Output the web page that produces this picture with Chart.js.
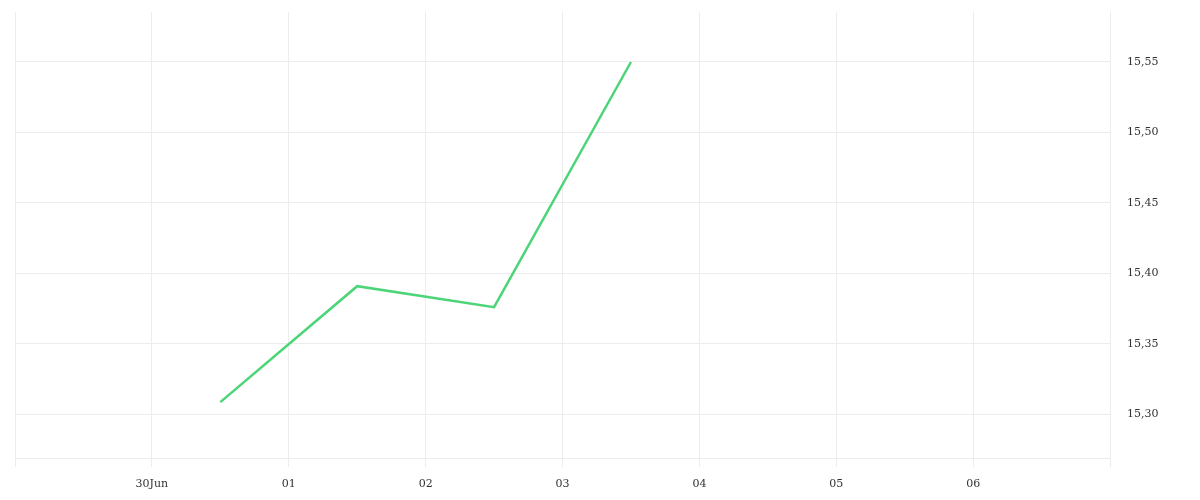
<!DOCTYPE html>
<html>
<head>
<meta charset="utf-8">
<script src="https://cdn.jsdelivr.net/npm/chart.js@4.4.0/dist/chart.umd.min.js"></script>
<style>
    body { margin: 0; background: #fff; }
    #wrap { width: 1200px; height: 500px; }
</style>
</head>
<body>
<div id="wrap"><canvas id="chart" width="1200" height="500"></canvas></div>
<script>
// days counted from 30 Jun, points sit at noon
const pointDays = [0.5, 1.5, 2.5, 3.5]
const prices = [15.3085, 15.3908, 15.3759, 15.55]

const dayTicks = [-1, 0, 1, 2, 3, 4, 5, 6, 7]
const dayLabels = ['', '30Jun', '01', '02', '03', '04', '05', '06', '']

const priceTicks = [15.30, 15.35, 15.40, 15.45, 15.50, 15.55]
const priceMin = 15.2688
const priceMax = 15.5855

const ctx = document.getElementById('chart')

Chart.defaults.font.family = '"DejaVu Serif", serif'
Chart.defaults.font.size = 11
Chart.defaults.color = '#333'

new Chart(ctx, {
    type: 'line',
    data: {
        datasets: [{
            data: pointDays.map((d, i) => ({ x: d, y: prices[i] })),
            borderColor: 'rgb(76, 212, 120)',
            borderWidth: 2.5,
            pointRadius: 0,
            tension: 0,
            fill: false
        }]
    },
    options: {
        responsive: false,
        animation: false,
        layout: {
            autoPadding: false,
            padding: { left: 15, top: 12, right: 0, bottom: 0 }
        },
        plugins: {
            legend: { display: false },
            tooltip: { enabled: false }
        },
        scales: {
            x: {
                type: 'linear',
                min: dayTicks[0],
                max: dayTicks[dayTicks.length - 1],
                afterBuildTicks: (scale) => {
                    scale.ticks = dayTicks.map((v) => ({ value: v }))
                },
                afterFit: (scale) => {
                    scale.height = 42
                },
                ticks: {
                    autoSkip: false,
                    maxRotation: 0,
                    padding: 11,
                    callback: (value) => dayLabels[dayTicks.indexOf(value)]
                },
                grid: {
                    color: '#ececec',
                    tickLength: 9
                },
                border: { color: '#ececec' }
            },
            y: {
                position: 'right',
                min: priceMin,
                max: priceMax,
                afterBuildTicks: (scale) => {
                    scale.ticks = priceTicks.map((v) => ({ value: v }))
                },
                afterFit: (scale) => {
                    scale.width = 90
                    scale.paddingTop = 0
                    scale.paddingBottom = 0
                },
                ticks: {
                    padding: 17,
                    callback: (value) => value.toFixed(2).replace('.', ',')
                },
                grid: {
                    color: '#ececec',
                    drawTicks: false
                },
                border: { color: '#ececec' }
            }
        }
    }
})
</script>
</body>
</html>
